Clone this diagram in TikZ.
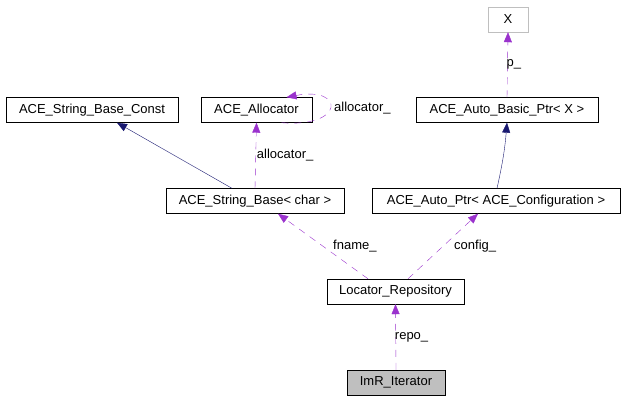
\documentclass[tikz,border=0pt]{standalone}
\usepackage{fontspec}
\setmainfont{Liberation Sans}
\usepackage{tikz}
\usetikzlibrary{shapes,arrows,arrows.meta,positioning,calc}
\usepackage{xcolor}
\definecolor{edgenavy}{HTML}{191970}
\definecolor{edgepurple}{HTML}{9A32CD}
\definecolor{boxgrey}{HTML}{BFBFBF}

\tikzset{
    cls/.style={draw, rectangle, inner sep=0pt, minimum height=25pt,
        font=\fontsize{13}{15}\selectfont},
    inherit/.style={draw=edgenavy, -{Triangle[length=10pt,width=8pt]}},
    usage/.style={draw=edgepurple, dash pattern=on 7pt off 6pt,
        -{Triangle[length=10pt,width=8pt]}},
    lbl/.style={font=\fontsize{13}{15}\selectfont, inner sep=1pt}
}

\begin{document}
\begin{tikzpicture}[x=1pt, y=-1pt]
    \useasboundingbox (0,0) rectangle (623,400);

    % Classes
    \node[cls, minimum width=40pt, draw=boxgrey] (x) at (508,19.5) {X};
    \node[cls, minimum width=172pt] (strconst) at (92,110) {ACE\_String\_Base\_Const};
    \node[cls, minimum width=111pt] (alloc) at (256.5,110) {ACE\_Allocator};
    \node[cls, minimum width=182pt] (basicptr) at (507,110) {ACE\_Auto\_Basic\_Ptr< X >};
    \node[cls, minimum width=178pt] (strbase) at (255,201) {ACE\_String\_Base< char >};
    \node[cls, minimum width=248pt] (autoptr) at (496,201) {ACE\_Auto\_Ptr< ACE\_Configuration >};
    \node[cls, minimum width=137pt] (locator) at (395.5,291.5) {Locator\_Repository};
    \node[cls, minimum width=98pt, fill=boxgrey] (iter) at (396,382.5) {ImR\_Iterator};

    % Heritage
    \draw[inherit] ([xshift=-23pt]strbase.north) -- ([xshift=25pt]strconst.south);
    \draw[inherit] ([xshift=1pt]autoptr.north) to[bend right=4] (basicptr.south);

    % Membres
    \draw[usage] (strbase.north) -- (alloc.south)
        node[lbl, pos=.5, anchor=west] (lblalloc) {allocator\_};
    \draw[usage] ([xshift=25pt]alloc.south) .. controls (345,128) and (345,86) ..
        ([xshift=30pt]alloc.north);
    \node[lbl, anchor=west] (lblself) at (333,108) {allocator\_};
    \draw[usage] ([xshift=-27.5pt]locator.north) -- ([xshift=23pt]strbase.south)
        node[lbl, pos=.5, anchor=west, xshift=9pt] (lblfname) {fname\_};
    \draw[usage] ([xshift=12.5pt]locator.north) -- ([xshift=-18pt]autoptr.south)
        node[lbl, pos=.5, anchor=west, xshift=10pt] (lblconfig) {config\_};
    \draw[usage] (iter.north) -- (locator.south)
        node[lbl, pos=.5, anchor=west, xshift=-2pt] (lblrepo) {repo\_};
    \draw[usage] (basicptr.north) -- (x.south)
        node[lbl, pos=.5, anchor=west, xshift=-2pt] (lblp) {p\_};
\end{tikzpicture}
\end{document}
